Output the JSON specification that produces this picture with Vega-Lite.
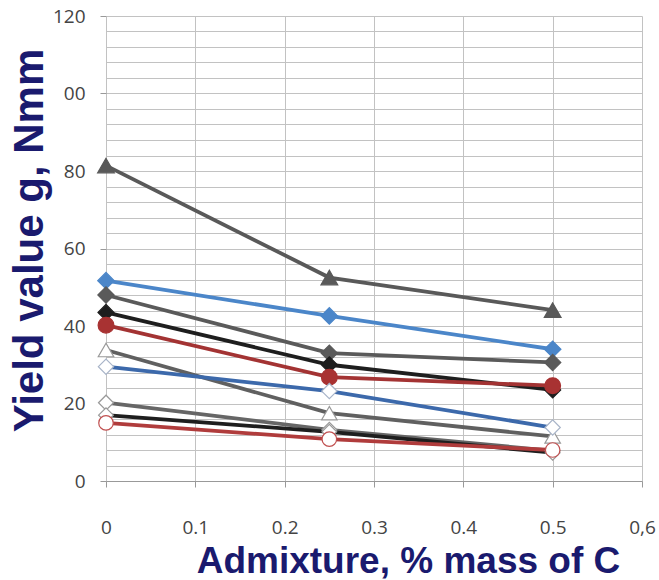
{
  "$schema": "https://vega.github.io/schema/vega-lite/v6.json",
  "width": 536,
  "height": 465,
  "autosize": {"type": "none"},
  "padding": {"left": 106, "top": 16, "right": 17, "bottom": 99},
  "background": "white",
  "config": {"view": {"stroke": null}},
  "data": {
    "values": [
      {"s": "S1", "x": 0, "y": 81.4}, {"s": "S1", "x": 0.25, "y": 52.5}, {"s": "S1", "x": 0.5, "y": 44.1},
      {"s": "S2", "x": 0, "y": 51.7}, {"s": "S2", "x": 0.25, "y": 42.6}, {"s": "S2", "x": 0.5, "y": 34.0},
      {"s": "S3", "x": 0, "y": 48.0}, {"s": "S3", "x": 0.25, "y": 33.0}, {"s": "S3", "x": 0.5, "y": 30.6},
      {"s": "S4", "x": 0, "y": 43.5}, {"s": "S4", "x": 0.25, "y": 30.0}, {"s": "S4", "x": 0.5, "y": 23.5},
      {"s": "S5", "x": 0, "y": 40.2}, {"s": "S5", "x": 0.25, "y": 26.8}, {"s": "S5", "x": 0.5, "y": 24.6},
      {"s": "S6", "x": 0, "y": 33.8}, {"s": "S6", "x": 0.25, "y": 17.5}, {"s": "S6", "x": 0.5, "y": 11.5},
      {"s": "S7", "x": 0, "y": 29.5}, {"s": "S7", "x": 0.25, "y": 23.2}, {"s": "S7", "x": 0.5, "y": 13.8},
      {"s": "S8", "x": 0, "y": 20.2}, {"s": "S8", "x": 0.25, "y": 13.2}, {"s": "S8", "x": 0.5, "y": 7.8},
      {"s": "S9", "x": 0, "y": 17.0}, {"s": "S9", "x": 0.25, "y": 12.7}, {"s": "S9", "x": 0.5, "y": 7.3},
      {"s": "S10", "x": 0, "y": 15.0}, {"s": "S10", "x": 0.25, "y": 10.8}, {"s": "S10", "x": 0.5, "y": 8.0}
    ]
  },
  "encoding": {
    "x": {
      "field": "x", "type": "quantitative",
      "scale": {"domain": [0, 0.6], "nice": false, "zero": false},
      "axis": {
        "values": [0, 0.1, 0.2, 0.3, 0.4, 0.5, 0.6],
        "labelExpr": "datum.value === 0 ? '0' : (datum.value > 0.55 ? '0,6' : format(datum.value, '.1f'))",
        "tickSize": 6, "tickColor": "#999999", "domainColor": "#999999",
        "grid": true, "gridColor": "#c2c2c2", "gridWidth": 1,
        "labelFont": "Open Sans", "labelFontSize": 19, "labelColor": "#444444",
        "labelBaseline": "alphabetic", "labelPadding": 46, "labelFlush": false, "labelOverlap": false,
        "title": "Admixture, % mass of C",
        "titleFont": "Liberation Sans", "titleFontSize": 37, "titleFontWeight": "bold", "titleColor": "#1a1a6e",
        "titleX": 302, "titleY": 91, "titleAlign": "center", "titleBaseline": "alphabetic"
      }
    },
    "y": {
      "field": "y", "type": "quantitative",
      "scale": {"domain": [0, 120], "nice": false},
      "axis": {
        "values": [0, 4, 8, 12, 16, 20, 24, 28, 32, 36, 40, 44, 48, 52, 56, 60, 64, 68, 72, 76, 80, 84, 88, 92, 96, 100, 104, 108, 112, 116, 120],
        "labelExpr": "datum.value % 20 === 0 ? (datum.value === 100 ? '00' : datum.label) : ''",
        "tickOpacity": {"condition": {"test": "datum.value % 20 === 0", "value": 1}, "value": 0},
        "tickSize": 6, "tickColor": "#999999", "domain": false,
        "grid": true, "gridColor": "#c2c2c2", "gridWidth": 1,
        "labelFont": "Open Sans", "labelFontSize": 19, "labelColor": "#444444",
        "labelPadding": 15, "labelOverlap": false,
        "title": "Yield value g, Nmm",
        "titleFont": "Liberation Sans", "titleFontSize": 42, "titleFontWeight": "bold", "titleColor": "#1a1a6e",
        "titleAngle": 270, "titleX": -64, "titleY": 224, "titleAlign": "center", "titleBaseline": "alphabetic"
      }
    }
  },
  "layer": [
    {
      "mark": {"type": "line", "strokeWidth": 3.8},
      "encoding": {
        "color": {
          "field": "s", "type": "nominal",
          "scale": {
            "domain": ["S1", "S2", "S3", "S4", "S5", "S6", "S7", "S8", "S9", "S10"],
            "range": ["#595959", "#4b86c9", "#5a5a5a", "#1e1e1e", "#a33333", "#606060", "#3c69ab", "#666666", "#1e1e1e", "#b03c3c"]
          },
          "legend": null
        }
      }
    },
    {
      "mark": {"type": "point", "filled": true, "opacity": 1, "strokeWidth": 1.2},
      "encoding": {
        "shape": {
          "field": "s", "type": "nominal",
          "scale": {
            "domain": ["S1", "S2", "S3", "S4", "S5", "S6", "S7", "S8", "S9", "S10"],
            "range": ["triangle-up", "diamond", "diamond", "diamond", "circle", "triangle-up", "diamond", "diamond", "diamond", "circle"]
          },
          "legend": null
        },
        "fill": {
          "field": "s", "type": "nominal",
          "scale": {
            "domain": ["S1", "S2", "S3", "S4", "S5", "S6", "S7", "S8", "S9", "S10"],
            "range": ["#595959", "#4b86c9", "#5a5a5a", "#1e1e1e", "#a83232", "#ffffff", "#ffffff", "#ffffff", "#ffffff", "#ffffff"]
          },
          "legend": null
        },
        "stroke": {
          "field": "s", "type": "nominal",
          "scale": {
            "domain": ["S1", "S2", "S3", "S4", "S5", "S6", "S7", "S8", "S9", "S10"],
            "range": ["#595959", "#4b86c9", "#5a5a5a", "#1e1e1e", "#a83232", "#999999", "#a8b4c8", "#999999", "#999999", "#c05050"]
          },
          "legend": null
        },
        "size": {
          "field": "s", "type": "nominal",
          "scale": {
            "domain": ["S1", "S2", "S3", "S4", "S5", "S6", "S7", "S8", "S9", "S10"],
            "range": [280, 210, 210, 210, 270, 280, 210, 210, 210, 270]
          },
          "legend": null
        }
      }
    }
  ]
}
